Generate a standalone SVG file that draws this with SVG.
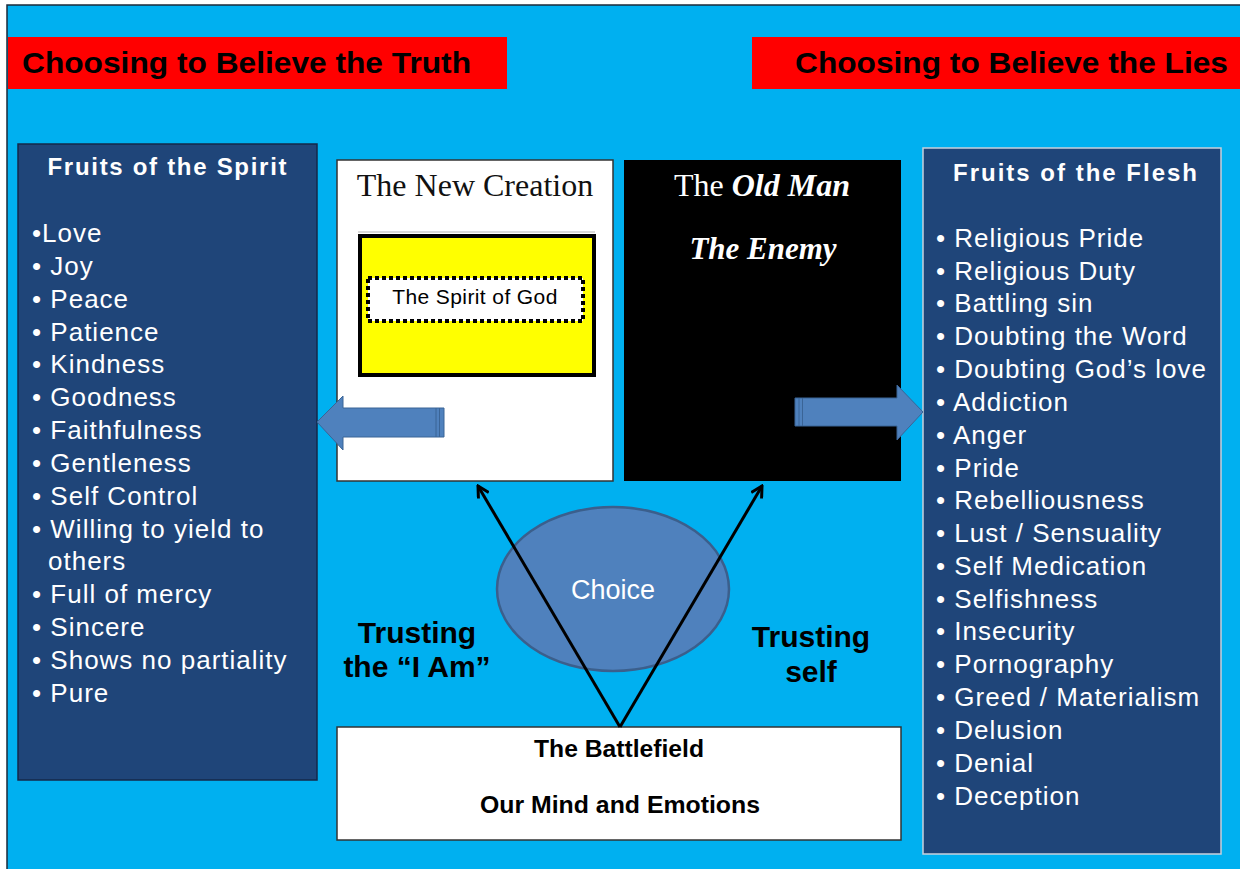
<svg xmlns="http://www.w3.org/2000/svg" width="1240" height="869" viewBox="0 0 1240 869">
<defs>
<style>
.sans{font-family:"Liberation Sans",Arial,sans-serif}
.serif{font-family:"Liberation Serif","Times New Roman",serif}
.banner{fill:#ff0000}
.bantxt{font-size:30px;font-weight:bold;fill:#000}
.panel{fill:#1f4579}
.ptitle{font-size:24px;font-weight:bold;fill:#fff;text-anchor:middle}
.item{font-size:26px;fill:#fff;letter-spacing:1px}
.bigb{font-size:30px;font-weight:bold;fill:#000;text-anchor:middle}
.blk{font-size:23px;font-weight:bold;fill:#000;text-anchor:middle}
.barrow{fill:#4f81bd;stroke:#3a6496;stroke-width:1}
.conn{stroke:#000;stroke-width:3;fill:none;marker-end:url(#open)}
</style>
<marker id="open" viewBox="0 0 14 14" refX="12" refY="7" markerWidth="14" markerHeight="14" markerUnits="userSpaceOnUse" orient="auto">
<path d="M1,1 L12,7 L1,13" fill="none" stroke="#000" stroke-width="3"/>
</marker>
</defs>
<rect x="0" y="0" width="1240" height="869" fill="#fff"/>
<rect x="7" y="5" width="1240" height="870" fill="#00b0f0" stroke="#1b2a3a" stroke-width="1.5"/>

<g id="banner-truth">
<rect class="banner" x="8" y="37" width="499" height="52"/>
<text class="sans bantxt" x="22" y="73" textLength="449" lengthAdjust="spacingAndGlyphs">Choosing to Believe the Truth</text>
</g>
<g id="banner-lies">
<rect class="banner" x="752" y="37" width="490" height="52"/>
<text class="sans bantxt" x="795" y="73" textLength="433" lengthAdjust="spacingAndGlyphs">Choosing to Believe the Lies</text>
</g>

<g id="fruits-spirit">
<rect class="panel" x="18" y="144" width="299" height="636" stroke="#14284a" stroke-width="1.5"/>
<text class="sans ptitle" x="167" y="175" textLength="239" lengthAdjust="spacing">Fruits of the Spirit</text>
<g class="sans item">
<text x="32" y="242">•Love</text>
<text x="32" y="275">• Joy</text>
<text x="32" y="308">• Peace</text>
<text x="32" y="341">• Patience</text>
<text x="32" y="373">• Kindness</text>
<text x="32" y="406">• Goodness</text>
<text x="32" y="439">• Faithfulness</text>
<text x="32" y="472">• Gentleness</text>
<text x="32" y="505">• Self Control</text>
<text x="32" y="538">• Willing to yield to</text>
<text x="48" y="570">others</text>
<text x="32" y="603">• Full of mercy</text>
<text x="32" y="636">• Sincere</text>
<text x="32" y="669">• Shows no partiality</text>
<text x="32" y="702">• Pure</text>
</g>
</g>

<g id="fruits-flesh">
<rect class="panel" x="923" y="148" width="298" height="706" stroke="#c8d0dc" stroke-width="1.5"/>
<text class="sans ptitle" x="1075" y="181" textLength="244" lengthAdjust="spacing">Fruits of the Flesh</text>
<g class="sans item">
<text x="936" y="247">• Religious Pride</text>
<text x="936" y="280">• Religious Duty</text>
<text x="936" y="312">• Battling sin</text>
<text x="936" y="345">• Doubting the Word</text>
<text x="936" y="378">• Doubting God’s love</text>
<text x="936" y="411">• Addiction</text>
<text x="936" y="444">• Anger</text>
<text x="936" y="477">• Pride</text>
<text x="936" y="509">• Rebelliousness</text>
<text x="936" y="542">• Lust / Sensuality</text>
<text x="936" y="575">• Self Medication</text>
<text x="936" y="608">• Selfishness</text>
<text x="936" y="640">• Insecurity</text>
<text x="936" y="673">• Pornography</text>
<text x="936" y="706">• Greed / Materialism</text>
<text x="936" y="739">• Delusion</text>
<text x="936" y="772">• Denial</text>
<text x="936" y="805">• Deception</text>
</g>
</g>

<g id="new-creation">
<rect x="337" y="160" width="276" height="321" fill="#fff" stroke="#333" stroke-width="1.5"/>
<text class="serif" x="475" y="196" font-size="32" text-anchor="middle" fill="#111">The New Creation</text>
<line x1="358" y1="232" x2="595" y2="232" stroke="#ccc" stroke-width="1.5"/>
<rect x="360" y="236" width="234" height="139" fill="#ffff00" stroke="#000" stroke-width="4"/>
</g>
<g id="spirit-of-god">
<rect x="368" y="278" width="215" height="43" fill="#fff" stroke="#000" stroke-width="4" stroke-dasharray="4 3"/>
<text class="sans" x="475" y="304" font-size="21" text-anchor="middle" fill="#000" letter-spacing="0.4">The Spirit of God</text>
</g>

<g id="old-man">
<rect x="624" y="160" width="277" height="321" fill="#000"/>
<text class="serif" x="762" y="196" font-size="32" text-anchor="middle" fill="#fff">The <tspan font-weight="bold" font-style="italic">Old Man</tspan></text>
<text class="serif" x="763" y="259" font-size="31" text-anchor="middle" fill="#fff" font-weight="bold" font-style="italic">The Enemy</text>
</g>

<g id="arrow-left">
<path class="barrow" d="M317,422 L343,396 L343,408 L444,408 L444,437 L343,437 L343,450 Z"/>
<line x1="436" y1="408" x2="436" y2="437" stroke="#3a6496" stroke-width="1"/>
<line x1="439.5" y1="408" x2="439.5" y2="437" stroke="#3a6496" stroke-width="1"/>
</g>
<g id="arrow-right">
<path class="barrow" d="M795,398 L897,398 L897,385 L923,412 L897,440 L897,426 L795,426 Z"/>
<line x1="799" y1="398" x2="799" y2="426" stroke="#3a6496" stroke-width="1"/>
<line x1="802.5" y1="398" x2="802.5" y2="426" stroke="#3a6496" stroke-width="1"/>
</g>

<g id="choice">
<ellipse cx="613" cy="589" rx="116" ry="82" fill="#4f81bd" stroke="#3b5f8c" stroke-width="2.5"/>
<text class="sans" x="613" y="599" font-size="27" text-anchor="middle" fill="#fff">Choice</text>
</g>

<g id="trust-iam">
<text class="sans bigb" x="417" y="643">Trusting</text>
<text class="sans bigb" x="417" y="677">the “I Am”</text>
</g>
<g id="trust-self">
<text class="sans bigb" x="811" y="647">Trusting</text>
<text class="sans bigb" x="811" y="682">self</text>
</g>

<g id="battlefield">
<rect x="337" y="727" width="564" height="113" fill="#fff" stroke="#333" stroke-width="1.5"/>
<text class="sans blk" x="619" y="757" textLength="170" lengthAdjust="spacingAndGlyphs">The Battlefield</text>
<text class="sans blk" x="620" y="813" textLength="280" lengthAdjust="spacingAndGlyphs">Our Mind and Emotions</text>
</g>

<g id="connectors">
<line class="conn" x1="620" y1="727" x2="478" y2="486"/>
<line class="conn" x1="620" y1="727" x2="762" y2="486"/>
</g>
</svg>
